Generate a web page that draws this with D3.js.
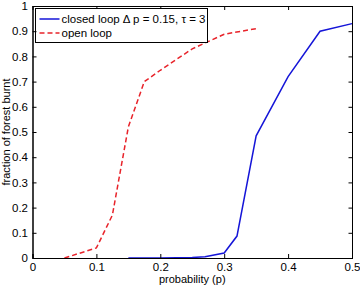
<!DOCTYPE html>
<html>
<head>
<meta charset="utf-8">
<script src="https://cdn.jsdelivr.net/npm/d3@7"></script>
<style>
  body { margin: 0; background: #fff; overflow: hidden; }
  svg { display: block; }
  svg text { font-family: "Liberation Sans", Arial, sans-serif; font-size: 11px; fill: #000; }
  svg .tick text { font-size: 11.5px; }
  svg .legendText { font-size: 11.5px; }
</style>
</head>
<body>
<div id="chart"></div>
<script>
// values
var closedP = [0.15, 0.2, 0.25, 0.27, 0.3, 0.32, 0.35, 0.4, 0.45, 0.5];
var closedBurnt = [0, 0, 0.002, 0.005, 0.02, 0.087, 0.485, 0.72, 0.9, 0.93];
var openP = [0.05, 0.1, 0.125, 0.15, 0.175, 0.2, 0.25, 0.3, 0.35];
var openBurnt = [0, 0.04, 0.17, 0.52, 0.7, 0.745, 0.83, 0.888, 0.91];
var xTicks = [0, 0.1, 0.2, 0.3, 0.4, 0.5];
var yTicks = [0, 0.1, 0.2, 0.3, 0.4, 0.5, 0.6, 0.7, 0.8, 0.9, 1];
var seriesNames = ["closed loop \u0394 p = 0.15, \u03c4 = 3", "open loop"];

var W = 360, H = 286;
var margin = {top: 6, right: 8, bottom: 28, left: 32.5};
var width = W - margin.left - margin.right,
    height = H - margin.top - margin.bottom;

var svg = d3.select("#chart").append("svg")
  .attr("width", W)
  .attr("height", H);
var g = svg.append("g")
  .attr("transform", "translate(" + margin.left + "," + margin.top + ")");

var x = d3.scaleLinear().domain([0, 0.5]).range([0, width]);
var y = d3.scaleLinear().domain([0, 1]).range([height, 0]);

function fmt(d){
  if(d === 0 || d === 1)
    return String(d);
  return d3.format(".1f")(d);
}

var line = d3.line()
  .x(function(d){ return x(d[0]); })
  .y(function(d){ return y(d[1]); });

var closedData = d3.zip(closedP, closedBurnt);
var openData = d3.zip(openP, openBurnt);

g.append("path").datum(openData)
  .attr("fill", "none")
  .attr("stroke", "#e8232a")
  .attr("stroke-width", 1.5)
  .attr("stroke-dasharray", "5,3")
  .attr("d", line);

g.append("path").datum(closedData)
  .attr("fill", "none")
  .attr("stroke", "#1515d8")
  .attr("stroke-width", 1.5)
  .attr("d", line);

// box + inward ticks on top and right (matlab style frame)
var frame = g.append("g").attr("class", "frame");
frame.append("rect")
  .attr("x", 0.5).attr("y", 0.5)
  .attr("width", width).attr("height", height)
  .attr("fill", "none").attr("stroke", "#000");
frame.selectAll(".tt").data(xTicks).enter().append("line")
  .attr("class", "tt")
  .attr("x1", function(d){ return x(d) + 0.5; })
  .attr("x2", function(d){ return x(d) + 0.5; })
  .attr("y1", 0).attr("y2", 4)
  .attr("stroke", "#000");
frame.selectAll(".rt").data(yTicks).enter().append("line")
  .attr("class", "rt")
  .attr("y1", function(d){ return y(d) + 0.5; })
  .attr("y2", function(d){ return y(d) + 0.5; })
  .attr("x1", width + 0.5).attr("x2", width - 3.5)
  .attr("stroke", "#000");

g.append("g").attr("class", "xbottom").attr("transform", "translate(0," + height + ")")
  .call(d3.axisBottom(x).tickValues(xTicks).tickSize(-4).tickPadding(5).tickFormat(fmt));

// legend
var lg = svg.append("g").attr("transform", "translate(35.5,8.5)");
lg.append("rect")
  .attr("width", 172)
  .attr("height", 34)
  .attr("fill", "#fff")
  .attr("stroke", "#000")
  .attr("stroke-width", 1);

lg.append("line").attr("x1", 4).attr("x2", 24).attr("y1", 10.5).attr("y2", 10.5)
  .attr("stroke", "#1515d8").attr("stroke-width", 1.5);
lg.append("line").attr("x1", 4).attr("x2", 24).attr("y1", 24.5).attr("y2", 24.5)
  .attr("stroke", "#e8232a").attr("stroke-width", 1.5).attr("stroke-dasharray", "5,3");

lg.selectAll(".legendText").data(seriesNames).enter().append("text")
  .attr("class", "legendText")
  .attr("x", 26)
  .attr("y", function(d, i){ return 14.5 + i * 14; })
  .text(function(d){ return d; });

// axis labels
svg.append("text")
  .attr("x", margin.left + width / 2)
  .attr("y", 283)
  .attr("text-anchor", "middle")
  .text("probability (p)");

svg.append("text")
  .attr("transform", "translate(10," + (margin.top + height / 2) + ") rotate(-90)")
  .attr("text-anchor", "middle")
  .text("fraction of forest burnt");

// y axis drawn last, on top of everything else
svg.append("g").attr("class", "yleft")
  .attr("transform", "translate(" + margin.left + "," + margin.top + ")")
  .call(d3.axisLeft(y).tickValues(yTicks).tickSize(-4).tickPadding(4.5).tickFormat(fmt));
</script>
</body>
</html>
